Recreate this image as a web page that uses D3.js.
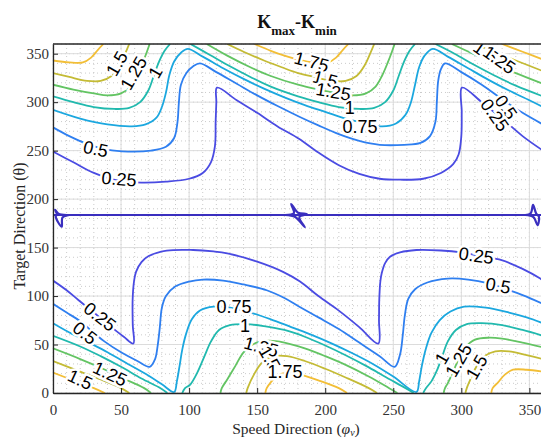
<!DOCTYPE html>
<html>
<head>
<meta charset="utf-8">
<script src="https://cdn.jsdelivr.net/npm/d3@7"></script>
<style>
  body { margin: 0; background: #fff; }
  text { font-family: "Liberation Serif", "Times New Roman", serif; }
  .clabel { font-family: "Liberation Sans", Arial, sans-serif; font-size: 18px; fill: #000; }
</style>
</head>
<body>
<div id="chart"></div>
<script>
var svgWidth = 541;
var svgHeight = 440;

var margin = { top: 44, left: 53 };
var width = 490;
var height = 349;

// contour levels and the parula-like colours MATLAB gave them
var levels = [0, 0.25, 0.5, 0.75, 1, 1.25, 1.5, 1.75];
var levelColors = ["#3a2fbf", "#4a4be2", "#2f7ff0", "#1ba7df", "#21b9ae", "#63c463", "#c4bb35", "#f2be36"];

var xTicks = [0, 50, 100, 150, 200, 250, 300, 350];
var yTicks = [0, 50, 100, 150, 200, 250, 300, 350];

// contour lines, [phi, theta] points
var c000 = [
  [[0, 183.6], [360, 183.6]],
  [[170.5, 183.6], [177, 185.5], [175, 195], [180, 186], [186.4, 184.5], [181, 181.5], [185, 171], [178, 181.5], [170.5, 183.6]],
  [[10, 183.6], [4, 185], [1.5, 189], [3, 184], [2, 182], [6.4, 171.5], [7, 181], [12, 183.6]],
  [[347, 183.6], [351, 185.5], [352.7, 194], [355, 185], [357, 182], [356, 173], [353, 181.5], [347, 183.6]]
];

var c025 = [
  [[0, 249], [15, 238], [30, 227], [48, 219], [65, 217], [83, 218], [100, 221], [110, 227], [116, 238], [119, 255], [119.5, 280], [120, 300], [120.5, 315],
   [135, 302], [150, 289], [165, 275], [181, 262], [195, 248], [210, 235], [225, 226], [240, 221], [255, 220], [272, 221], [285, 227], [294, 236], [298, 246], [300, 265], [300.3, 290], [300.5, 315],
   [315, 300], [330, 283], [345, 265], [360, 250]],
  [[0, 116], [10, 106], [18.6, 96], [30, 83], [42, 69], [52, 58], [59, 51], [58.6, 70], [58.5, 96], [59.5, 115], [61, 125], [65, 135], [70, 141], [83.5, 146.8], [103, 147.5], [118, 146], [128, 144], [150, 135.5], [169, 125], [181.5, 115],
   [195, 100], [210, 85], [225, 68], [239, 51], [239.5, 75], [239.7, 96], [240.5, 115], [241.5, 123.5], [244, 134], [247.6, 140.6], [255, 145], [267, 147.5], [285, 147], [300, 145], [315, 141], [329.6, 137], [345, 128], [358, 118], [360, 116]]
];

var c050 = [
  [[0, 274], [12, 265], [25, 257], [40, 251], [55, 249], [72, 250], [83, 254], [89, 263], [91.5, 280], [92.5, 300], [94, 318], [98, 330], [103, 337], [108, 340],
   [120, 331], [135, 319], [150, 307], [165, 296], [181, 285], [195, 276], [210, 267], [225, 260], [240, 256], [258, 256], [270, 258], [277, 265], [281, 280], [282, 300], [283, 322], [285, 334], [288, 340],
   [300, 331], [315, 318], [330, 303], [345, 289], [360, 277]],
  [[0, 92], [10, 83], [20, 74], [30, 62], [38, 53], [50, 42], [62, 33], [71, 27], [75, 35], [77, 50], [78.5, 68], [80, 88], [83, 100], [90, 110], [100, 115], [110, 117], [125, 116], [140, 112], [157, 106], [170, 98], [181, 89],
   [195, 78], [210, 66], [225, 52], [240, 38], [251, 27], [255, 40], [257, 60], [258.5, 80], [261, 97], [266, 107], [275, 114], [290, 118], [305, 117], [320, 113], [335, 106], [345, 101], [360, 92]]
];

var c075 = [
  [[0, 292], [20, 283], [40, 277], [58, 275], [68, 277], [76, 284], [80, 295], [83, 310], [85.5, 328], [89, 342], [94, 351], [99, 355],
   [110, 347], [125, 335], [140, 324], [155, 314], [170, 305], [185, 297], [200, 290], [215, 283], [230, 278], [242, 275], [252, 278], [259, 287], [263, 300], [266, 318], [269, 336], [273, 348], [279, 355],
   [290, 347], [305, 335], [320, 323], [335, 312], [350, 302], [360, 295]],
  [[0, 72], [10, 64], [25, 53], [40, 42], [55, 30], [70, 18], [80, 9], [89, 1], [91, 12], [93, 28], [95, 45], [98, 62], [102, 76], [108, 85], [118, 89], [130, 88], [145, 83], [160, 76], [175, 68],
   [190, 60], [205, 51], [220, 41], [235, 30], [250, 17], [267, 1], [269, 12], [271, 28], [274, 46], [278, 62], [284, 75], [292, 84], [302, 89], [318, 88], [335, 83], [348, 78], [360, 72]]
];

var c100 = [
  [[0, 306], [15, 300], [30, 295], [45, 293], [56, 294], [64, 300], [70, 312], [74, 327], [78, 342], [82, 353], [86, 360]],
  [[101, 360], [115, 349], [130, 337], [145, 326], [160, 316], [180, 306], [195, 300], [210, 295], [225, 293], [236, 294], [244, 300], [250, 312], [254, 327], [258, 342], [262, 353], [266, 360]],
  [[281, 360], [295, 350], [310, 338], [325, 327], [340, 317], [360, 306]],
  [[0, 59], [20, 48], [35, 38], [50, 27], [65, 15], [79, 5], [84, 0]],
  [[95, 0], [97, 5], [101, 9], [106, 21], [111, 37], [116, 53], [122, 65], [130, 70], [142, 71], [155, 69], [170, 65], [185, 58], [200, 49], [215, 39], [230, 28], [245, 16], [259, 5], [265, 0]],
  [[272, 0], [274, 5], [278, 12], [282, 23], [286, 38], [290, 53], [296, 65], [304, 71], [315, 72], [330, 70], [345, 65], [360, 59]]
];

var c125 = [
  [[0, 318], [15, 313], [30, 309], [40, 307], [50, 309], [57, 316], [62, 328], [66, 341], [69, 352], [71, 360]],
  [[113, 360], [128, 348], [145, 336], [160, 327], [180, 318], [195, 313], [206, 310], [220, 307], [230, 309], [237, 316], [242, 328], [246, 341], [249, 352], [251, 360]],
  [[293, 360], [310, 349], [325, 339], [340, 330], [360, 319]],
  [[0, 46], [20, 35], [35, 26], [50, 16], [67, 5], [72, 0]],
  [[123, 0], [124, 5], [128, 14], [134, 28], [140, 42], [148, 51], [158, 54], [170, 52], [185, 46], [200, 38], [215, 29], [232, 17], [247, 5], [253, 0]],
  [[287, 0], [288, 5], [290, 10], [294, 22], [298, 35], [303, 47], [310, 55], [320, 57], [330, 56], [345, 52], [360, 47]]
];

var c150 = [
  [[0, 330], [12, 326], [25, 322], [35, 322], [43, 327], [49, 338], [53, 350], [56, 360]],
  [[128, 360], [140, 352], [155, 343], [168, 336], [180, 330], [192, 326], [205, 322], [215, 322], [223, 327], [229, 338], [233, 350], [236, 360]],
  [[310, 360], [325, 351], [340, 343], [360, 332]],
  [[0, 33], [20, 22], [35, 14], [50, 5], [56, 0]],
  [[142, 0], [143, 5], [148, 20], [154, 32], [162, 38], [172, 38], [185, 33], [200, 25], [215, 16], [232, 5], [238, 0]],
  [[303, 0], [304, 5], [307, 15], [311, 27], [317, 38], [325, 43], [335, 43], [348, 39], [360, 35]]
];

var c175 = [
  [[0, 343], [12, 341], [22, 341], [28, 346], [33, 354], [37, 360]],
  [[148, 360], [160, 353], [170, 348], [180, 344], [192, 341], [202, 341], [208, 346], [213, 354], [217, 360]],
  [[330, 360], [345, 352], [360, 344]],
  [[0, 21], [15, 13], [30, 5], [38, 0]],
  [[156, 0], [157, 5], [160, 11], [165, 18], [172, 21], [182, 19], [195, 13], [210, 5], [216, 0]],
  [[322, 0], [323, 5], [327, 11], [332, 19], [338, 24], [348, 24], [360, 22]]
];

// inline labels: [text, phi, theta, angle]
var labels = [
  ["1.5", 46.8, 340, -60], ["1.25", 59, 330, -60], ["1", 75, 331, -60],
  ["0.5", 31.4, 252, 12], ["0.25", 48.5, 221, 5],
  ["1.75", 190, 342, 15], ["1.5", 200, 324, 15], ["1.25", 206, 311, 10], ["1", 218, 294, 0], ["0.75", 225.5, 275, 0],
  ["0.5", 333, 295, 55], ["0.25", 324.7, 287, 55],
  ["1.5", 318, 352, 35], ["1.25", 328, 344, 35],
  ["0.25", 34.5, 79, 38], ["0.5", 23.5, 62, 38],
  ["0.75", 133, 89, 0], ["1", 141, 70, 0], ["1.25", 153, 48, 15], ["1.5", 159.4, 36, 60], ["1.75", 170.5, 22, 0],
  ["1.5", 20, 14, 25], ["1.25", 42, 20, 25],
  ["0.25", 311, 142, 8], ["0.5", 327, 111, 10],
  ["1", 285.6, 36, -60], ["1.25", 297.8, 34, -60], ["1.5", 311, 27, -60]
];

var contourSets = [c000, c025, c050, c075, c100, c125, c150, c175];

var svg = d3.select("#chart")
  .append("svg")
  .attr("width", svgWidth)
  .attr("height", svgHeight);

var chartGroup = svg.append("g")
  .attr("transform", `translate(${margin.left}, ${margin.top})`);

var xScale = d3.scaleLinear().domain([0, 360]).range([0, width]);
var yScale = d3.scaleLinear().domain([0, 360]).range([height, 0]);

chartGroup.append("clipPath").attr("id", "plotclip")
  .append("rect").attr("width", width).attr("height", height);

// grid: dotted minor, light solid major
var grid = chartGroup.append("g");
grid.selectAll(".vminor").data(d3.range(0, 361, 10)).enter().append("line")
  .attr("x1", d => xScale(d)).attr("x2", d => xScale(d))
  .attr("y1", 0).attr("y2", height)
  .attr("stroke", "#b5b5b5").attr("stroke-width", 0.7).attr("stroke-dasharray", "1,3");
grid.selectAll(".hminor").data(d3.range(0, 361, 10)).enter().append("line")
  .attr("y1", d => yScale(d)).attr("y2", d => yScale(d))
  .attr("x1", 0).attr("x2", width)
  .attr("stroke", "#b5b5b5").attr("stroke-width", 0.7).attr("stroke-dasharray", "1,3");
grid.selectAll(".vmajor").data(xTicks).enter().append("line")
  .attr("x1", d => xScale(d)).attr("x2", d => xScale(d))
  .attr("y1", 0).attr("y2", height)
  .attr("stroke", "#dcdcdc").attr("stroke-width", 1);
grid.selectAll(".hmajor").data(yTicks).enter().append("line")
  .attr("y1", d => yScale(d)).attr("y2", d => yScale(d))
  .attr("x1", 0).attr("x2", width)
  .attr("stroke", "#dcdcdc").attr("stroke-width", 1);

// contour lines
var line = d3.line()
  .x(d => xScale(d[0]))
  .y(d => yScale(d[1]))
  .curve(d3.curveCatmullRom.alpha(0.5));

var plot = chartGroup.append("g").attr("clip-path", "url(#plotclip)");

contourSets.forEach(function(set, i) {
  plot.selectAll(null)
    .data(set)
    .enter()
    .append("path")
    .attr("d", line)
    .attr("fill", "none")
    .attr("stroke", levelColors[i])
    .attr("stroke-width", i == 0 ? 2.2 : 1.8)
    .attr("stroke-linejoin", "round");
});

// labels, with a white halo standing in for MATLAB's line gap
plot.selectAll(".clabel")
  .data(labels)
  .enter()
  .append("text")
  .attr("class", "clabel")
  .attr("transform", d => `translate(${xScale(d[1])}, ${yScale(d[2])}) rotate(${d[3]})`)
  .attr("text-anchor", "middle")
  .attr("dy", "0.36em")
  .attr("stroke", "#fff")
  .attr("stroke-width", 5)
  .attr("paint-order", "stroke")
  .text(d => d[0]);

// axes, ticks pointing inward
var bottomAxis = d3.axisBottom(xScale).tickValues(xTicks).tickSizeInner(-5).tickSizeOuter(0).tickPadding(11);
var leftAxis = d3.axisLeft(yScale).tickValues(yTicks).tickSizeInner(-5).tickSizeOuter(0).tickPadding(4);

var xAxisG = chartGroup.append("g")
  .attr("transform", `translate(0, ${height})`)
  .call(bottomAxis);
var yAxisG = chartGroup.append("g")
  .call(leftAxis);
[xAxisG, yAxisG].forEach(function(g) {
  g.attr("font-family", null).attr("font-size", null);
  g.select(".domain").attr("stroke", "#262626").attr("stroke-width", 1.3);
  g.selectAll(".tick line").attr("stroke", "#262626");
  g.selectAll(".tick text")
    .attr("font-family", "Liberation Serif, serif")
    .style("font-family", "'Liberation Serif', serif")
    .style("font-size", "15px")
    .attr("fill", "#333");
});

// top box edge
chartGroup.append("line")
  .attr("x1", 0).attr("x2", width).attr("y1", 0).attr("y2", 0)
  .attr("stroke", "#262626").attr("stroke-width", 1.3);

// title
var title = svg.append("text")
  .attr("x", 297).attr("y", 28)
  .attr("text-anchor", "middle")
  .attr("font-weight", "bold")
  .attr("font-size", 18)
  .attr("fill", "#111");
title.append("tspan").text("K");
title.append("tspan").attr("font-size", 13).attr("dy", 7).text("max");
title.append("tspan").attr("dy", -7).text("-K");
title.append("tspan").attr("font-size", 13).attr("dy", 7).text("min");

// axis labels
var xl = svg.append("text")
  .attr("x", 296).attr("y", 434)
  .attr("text-anchor", "middle")
  .attr("font-size", 15.5)
  .attr("fill", "#262626");
xl.append("tspan").text("Speed Direction (");
xl.append("tspan").attr("font-style", "italic").text("\u03c6");
xl.append("tspan").attr("font-size", 10).attr("dy", 2).attr("font-style", "italic").text("v");
xl.append("tspan").attr("dy", -2).text(")");

svg.append("text")
  .attr("transform", "translate(25, 226) rotate(-90)")
  .attr("text-anchor", "middle")
  .attr("font-size", 16)
  .attr("fill", "#262626")
  .text("Target Direction (\u03b8)");
</script>
</body>
</html>
